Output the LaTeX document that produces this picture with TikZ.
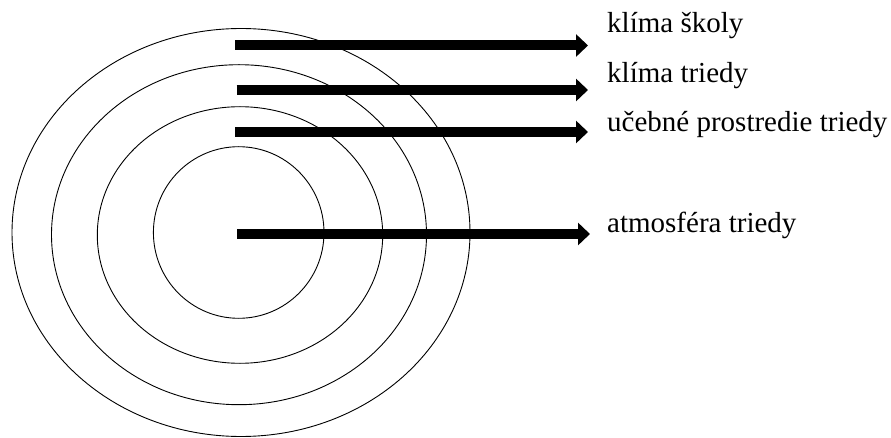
\documentclass[tikz,border=0pt]{standalone}
\usepackage{fontspec}
\setmainfont{Liberation Serif}
\usetikzlibrary{arrows.meta}
\begin{document}
\begin{tikzpicture}[x=1pt,y=-1pt,
  ring/.style={draw=black,line width=0.9pt},
  fatarrow/.style={line width=10pt,-{Triangle[width=22pt,length=12pt]}},
  lbl/.style={anchor=base west,inner sep=0pt,font=\fontsize{29}{34}\selectfont}]
  \useasboundingbox (0,0) rectangle (891,438);
  % concentric rings
  \draw[ring] (241,232.5) ellipse [x radius=229, y radius=204];
  \draw[ring] (239,234.7) ellipse [x radius=187.5, y radius=170];
  \draw[ring] (240,235) ellipse [x radius=142.7, y radius=128.3];
  \draw[ring] (238.7,232.5) ellipse [x radius=85.3, y radius=85.8];
  % arrow starts and tips
  \coordinate (s1) at (235,45.5);
  \coordinate (s2) at (236.5,90);
  \coordinate (s3) at (235,132);
  \coordinate (s4) at (237,234);
  \coordinate (e1) at (588,45.5);
  \coordinate (e2) at (588,90);
  \coordinate (e3) at (588,132);
  \coordinate (e4) at (590,234);
  % labels
  \node[lbl] (l1) at (607,33) {klíma školy};
  \node[lbl] (l2) at (607,83) {klíma triedy};
  \node[lbl] (l3) at (607,131.5) {učebné prostredie triedy};
  \node[lbl] (l4) at (607,233) {atmosféra triedy};
  % arrows
  \draw[fatarrow] (s1) -- (e1);
  \draw[fatarrow] (s2) -- (e2);
  \draw[fatarrow] (s3) -- (e3);
  \draw[fatarrow] (s4) -- (e4);
\end{tikzpicture}
\end{document}
